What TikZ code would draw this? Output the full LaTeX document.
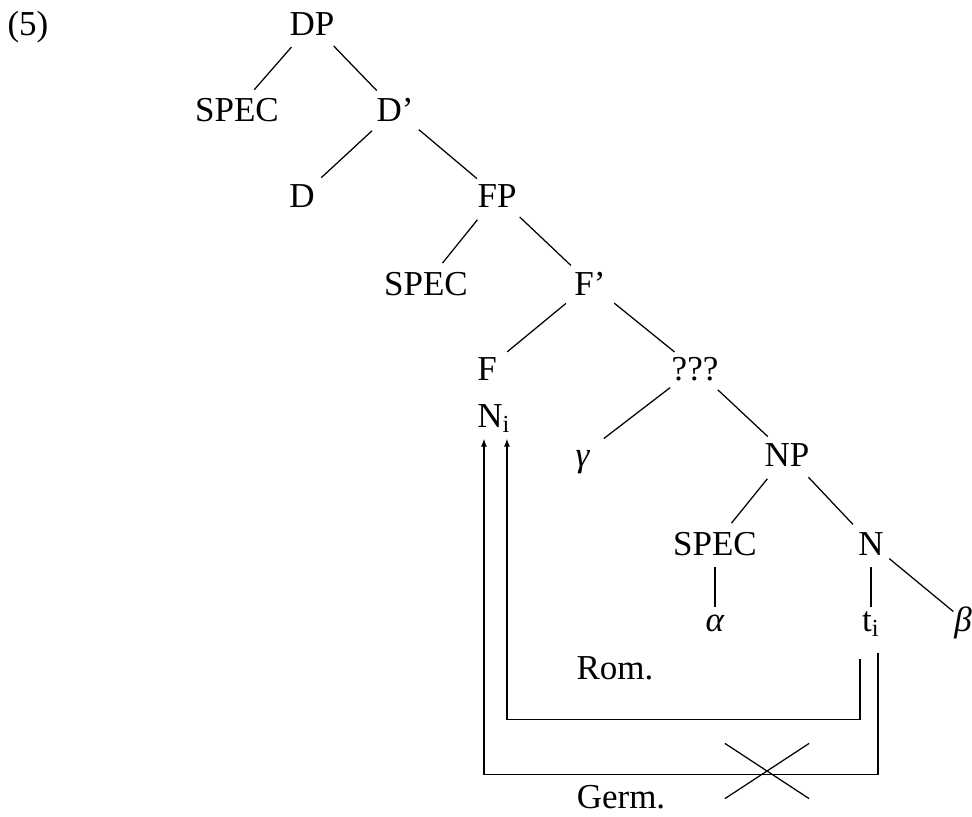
\documentclass[tikz,border=0pt]{standalone}
\usepackage{fontspec}
\setmainfont{Liberation Serif}
\usetikzlibrary{trees,positioning,arrows.meta,shapes.misc}

\begin{document}
\begin{tikzpicture}[
  x=0.4pt, y=0.4pt,
  every node/.style={font=\fontsize{14}{17}\selectfont, inner sep=0pt, text height=9.3pt, text depth=0pt},
  edge from parent/.style={draw, line width=0.5pt, shorten <=12.5pt, shorten >=10.5pt},
  edge from parent path={(\tikzparentnode.center) -- (\tikzchildnode.center)},
  level 1/.style={grow via three points={one child at (0,-86) and two children at (-75,-86) and (83,-86)}},
  level 2/.style={grow via three points={one child at (0,-86) and two children at (-93,-86) and (102,-86)}},
  level 3/.style={grow via three points={one child at (0,-88) and two children at (-71,-88) and (93,-88)}},
  level 4/.style={grow via three points={one child at (0,-85) and two children at (-103,-85) and (105,-85)}},
  level 5/.style={grow via three points={one child at (0,-86) and two children at (-112,-86) and (92,-86)}},
  level 6/.style={grow via three points={one child at (0,-89) and two children at (-72,-89) and (84,-89)}},
  level 7/.style={grow via three points={one child at (0,-76) and two children at (0,-76) and (92,-76)},
    edge from parent/.append style={shorten <=9.5pt, shorten >=5pt}},
  move/.style={line width=0.5pt, -{Latex[length=3.2pt,width=2.4pt]}}
]
\useasboundingbox (0,0) rectangle (972,-816);
\node (ex) at (28,-23.5) {(5)};
\node (DP) at (312,-23.5) {DP}
  child { node (spec1) {SPEC} }
  child { node (D1) {D'}
    child { node (D) {D} }
    child { node (FP) {FP}
      child { node (spec2) {SPEC} }
      child { node (F1) {F'}
        child { node (F) {F} }
        child { node (Q) {???}
          child { node (gamma) {\textit{γ}} }
          child { node (NP) {NP}
            child { node (spec3) {SPEC}
              child { node (alpha) {\textit{α}} }
            }
            child { node (N) {N}
              child { node (ti) {t\textsubscript{i}} }
              child { node (beta) {\textit{β}} }
            }
          }
        }
      }
    }
  };
\node (Ni) [below=9.1pt of F.south west, anchor=north west] {N\textsubscript{i}};
\node (rom) at (615,-667.5) {Rom.};
\node (germ) at (621,-797) {Germ.};
\draw[move] ([shift={(-11,-27)}]ti.south) -- ++(0,-61) -| ([shift={(13,-11)}]Ni.south);
\draw[move] ([shift={(7,-21)}]ti.south) -- ++(0,-122) -| ([shift={(-10,-11)}]Ni.south);
\node (nogo) [draw, cross out, line width=0.5pt, minimum width=33.2pt, minimum height=21.6pt] at (767,-771) {};
\end{tikzpicture}
\end{document}
